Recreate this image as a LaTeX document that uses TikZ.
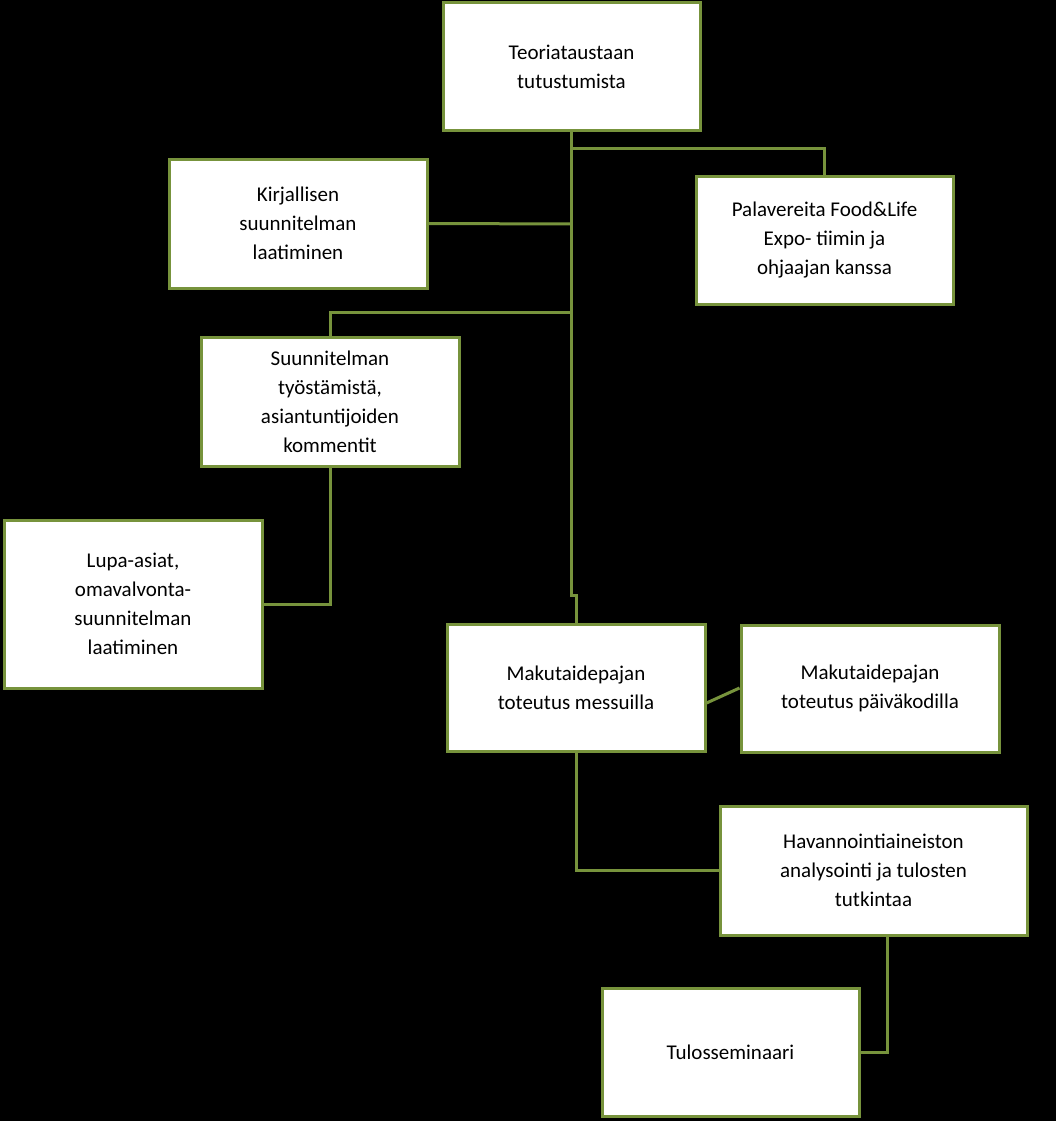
\documentclass[tikz,border=0pt]{standalone}
\usepackage{fontspec}
\setmainfont{Carlito}
\definecolor{gr}{RGB}{119,147,60}
\begin{document}
\begin{tikzpicture}[x=1pt,y=-1pt,
  box/.style={draw=gr,line width=3pt,fill=white,align=center,font=\fontsize{21}{29}\selectfont,inner sep=0pt},
  con/.style={draw=gr,line width=3pt}]
\fill[black] (0,0) rectangle (1056,1121);
\useasboundingbox (0,0) rectangle (1056,1121);
\newcommand{\bx}[6]{\node[box,minimum width=#4-#2,minimum height=#5-#3] (#1) at ({(#2+#4)/2},{(#3+#5)/2}) {#6};}
\bx{A}{443}{3}{700}{131}{Teoriataustaan\\tutustumista}
\bx{B}{169}{159}{427}{288}{Kirjallisen\\suunnitelman\\laatiminen}
\bx{C}{696}{176}{953}{304}{Palavereita Food\&Life\\Expo- tiimin ja\\ohjaajan kanssa}
\bx{D}{201}{337}{459}{466}{Suunnitelman\\työstämistä,\\asiantuntijoiden\\kommentit}
\bx{E}{4}{520}{262}{688}{Lupa-asiat,\\omavalvonta-\\suunnitelman\\laatiminen}
\bx{F}{447}{624}{705}{751}{Makutaidepajan\\toteutus messuilla}
\bx{G}{741}{625}{999}{752}{Makutaidepajan\\toteutus päiväkodilla}
\bx{H}{720}{806}{1027}{935}{Havannointiaineiston\\analysointi ja tulosten\\tutkintaa}
\bx{I}{602}{988}{859}{1116}{Tulosseminaari}
\coordinate (s1) at (571,595);
\coordinate (s2) at (576,595);
\draw[con] (571,131) -- (s1) -- (s2) -- (F.north -| s2);
\draw[con] (571,148) -| (C.north);
\draw[con] (B.east) -- (571,224);
\draw[con] (571,312) -| (D.north);
\draw[con] (D.south) |- (E.east |- 0,604);
\draw[con] (F.east |- 0,703) -- (G.west |- 0,688);
\draw[con] (576,751) |- (H.west);
\draw[con] (887,935) |- (I.east);
\end{tikzpicture}
\end{document}
